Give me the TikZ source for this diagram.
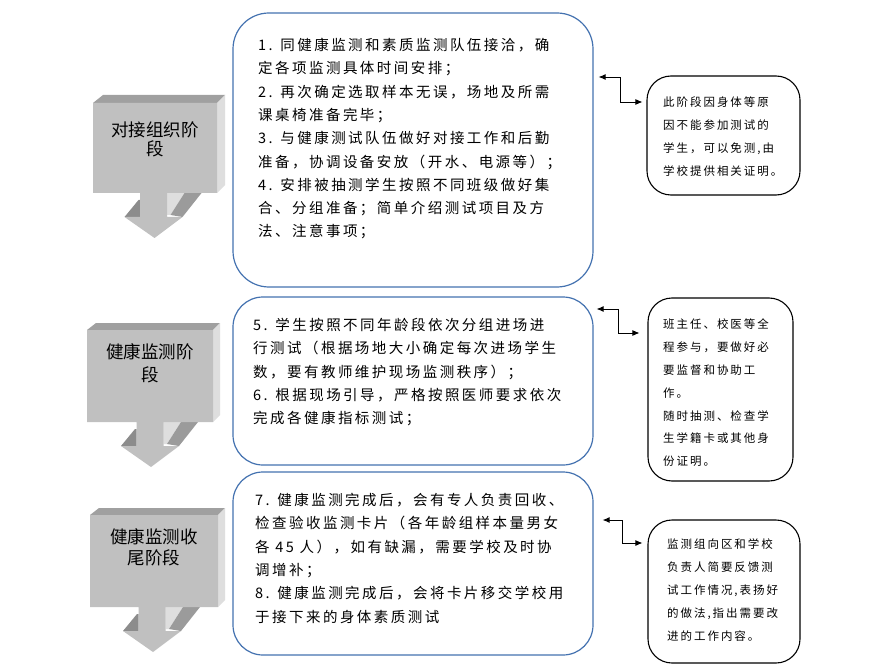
\documentclass[tikz,border=0pt]{standalone}
\usepackage{fontspec}
\usetikzlibrary{calc,arrows.meta}
\newfontfamily\cjk{Noto Sans CJK SC}
\newfontfamily\cjksp[LetterSpace=17]{Noto Sans CJK SC}
\definecolor{midblue}{RGB}{68,114,176}
\definecolor{frontgrey}{RGB}{192,192,192}
\definecolor{topgrey}{RGB}{160,160,160}
\definecolor{sidegrey}{RGB}{222,222,222}
\definecolor{darkgrey}{RGB}{140,140,140}
\definecolor{midgrey}{RGB}{155,155,155}
% #1 x1, #2 x2, #3 top, #4 bottom, #5 shaft centre, #6 depth
\newcommand{\stageblock}[6]{%
  \fill[topgrey] (#1,#3) -- (#2,#3) -- (#2+#6,#3-#6) -- (#1+#6+2,#3-#6) -- cycle;
  \fill[sidegrey] (#2,#3) -- (#2+#6,#3-#6) -- (#2+#6,#4-#6) -- (#2,#4) -- cycle;
  \fill[darkgrey] (#5-29,#4+24) -- (#5-15,#4+7) -- (#5-13.5,#4+7) -- (#5-13.5,#4+24) -- cycle;
  \fill[sidegrey] (#5+13.5,#4) -- (#5+31,#4) -- (#5+17,#4+22) -- (#5+13.5,#4+22) -- cycle;
  \fill[midgrey] (#5+31,#4) -- (#5+48,#4) -- (#5+29,#4+24) -- (#5+17,#4+22) -- cycle;
  \fill[frontgrey] (#1,#3) -- (#2,#3) -- (#2,#4) -- (#5+13.5,#4) -- (#5+13.5,#4+24)
     -- (#5+29,#4+24) -- (#5+1,#4+45) -- (#5-29,#4+24) -- (#5-13.5,#4+24)
     -- (#5-13.5,#4) -- (#1,#4) -- cycle;
}
\tikzset{
  midbox/.style={draw=midblue, line width=1.2pt, fill=white, inner sep=0pt, rectangle},
  sidebox/.style={draw=black, line width=1.1pt, rounded corners=24pt, inner sep=0pt, rectangle},
  midtext/.style={anchor=north west, inner sep=0pt, align=left, font=\cjksp\fontsize{14.5}{23.3}\selectfont},
  sidetext/.style={anchor=north west, inner sep=0pt, align=left, font=\cjksp\fontsize{11.5}{22.8}\selectfont},
  stagetext/.style={inner sep=0pt, align=center},
  conn/.style={line width=0.9pt, {Latex[length=7pt,width=6pt]}-{Latex[length=7pt,width=6pt]}}
}
\begin{document}
\begin{tikzpicture}[x=1pt,y=-1pt]
\useasboundingbox (0,0) rectangle (869,668);
\fill[white] (0,0) rectangle (869,668);

% left stage arrows
\stageblock{93}{217}{103}{193}{153.5}{8}
\stageblock{87}{213}{330}{422}{150}{7}
\stageblock{90}{218}{515}{607}{152}{7}
\node[stagetext, font=\cjk\fontsize{17.5}{19}\selectfont] (s1) at (155,139) {对接组织阶\\段};
\node[stagetext, font=\cjk\fontsize{17.5}{23}\selectfont] (s2) at (150,363.5) {健康监测阶\\段};
\node[stagetext, font=\cjk\fontsize{17.5}{21}\selectfont] (s3) at (154,547.5) {健康监测收\\尾阶段};

% middle boxes
\node[midbox, rounded corners=36pt, minimum width=360pt, minimum height=274pt] (m1) at (413,150) {};
\node[midbox, rounded corners=30pt, minimum width=360pt, minimum height=168pt] (m2) at (413,381) {};
\node[midbox, rounded corners=30pt, minimum width=360pt, minimum height=183pt] (m3) at (413,563.5) {};

\node[midtext] (t1) at (258,38) {1. 同健康监测和素质监测队伍接洽，确\\
定各项监测具体时间安排；\\
2. 再次确定选取样本无误，场地及所需\\
课桌椅准备完毕；\\
3. 与健康测试队伍做好对接工作和后勤\\
准备，协调设备安放（开水、电源等）；\\
4. 安排被抽测学生按照不同班级做好集\\
合、分组准备；简单介绍测试项目及方\\
法、注意事项；};

\node[midtext] (t2) at (253,318) {5. 学生按照不同年龄段依次分组进场进\\
行测试（根据场地大小确定每次进场学生\\
数，要有教师维护现场监测秩序）；\\
6. 根据现场引导，严格按照医师要求依次\\
完成各健康指标测试；};

\node[midtext] (t3) at (255,493) {7. 健康监测完成后，会有专人负责回收、\\
检查验收监测卡片（各年龄组样本量男女\\
各 45 人），如有缺漏，需要学校及时协\\
调增补；\\
8. 健康监测完成后，会将卡片移交学校用\\
于接下来的身体素质测试};

% right boxes
\node[sidebox, minimum width=153pt, minimum height=119pt] (r1) at (723.5,135.5) {};
\node[sidebox, minimum width=145pt, minimum height=183pt] (r2) at (720.5,389.5) {};
\node[sidebox, minimum width=152pt, minimum height=143pt] (r3) at (724,591.5) {};

\node[sidetext] (u1) at (663,97) {此阶段因身体等原\\
因不能参加测试的\\
学生，可以免测,由\\
学校提供相关证明。};

\node[sidetext] (u2) at (663,319) {班主任、校医等全\\
程参与，要做好必\\
要监督和协助工\\
作。\\
随时抽测、检查学\\
生学籍卡或其他身\\
份证明。};

\node[sidetext] (u3) at (667,539) {监测组向区和学校\\
负责人简要反馈测\\
试工作情况,表扬好\\
的做法,指出需要改\\
进的工作内容。};

% connectors
\coordinate (a1) at ($(m1.east)+(5,-73)$);
\coordinate (b1) at ($(r1.west)+(-4,-33.5)$);
\draw[conn] (a1) -| ($(a1)!0.5!(b1)$) |- (b1);
\coordinate (a2) at ($(m2.east)+(3,-72)$);
\coordinate (b2) at ($(r2.west)+(-8,-56.5)$);
\draw[conn] (a2) -| ($(a2)!0.5!(b2)$) |- (b2);
\coordinate (a3) at ($(m3.east)+(9,-43.5)$);
\coordinate (b3) at ($(r3.west)+(-5,-48.5)$);
\draw[conn] (a3) -| ($(a3)!0.5!(b3)$) |- (b3);
\end{tikzpicture}
\end{document}
